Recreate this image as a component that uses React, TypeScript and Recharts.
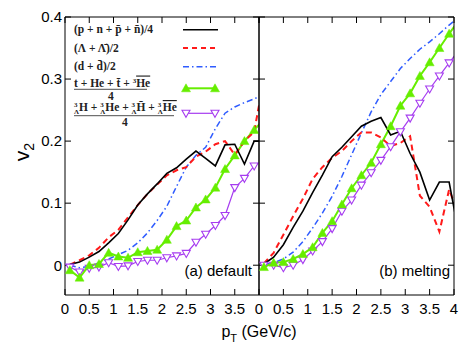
import React from 'react';
import { LineChart, Line, XAxis, YAxis, Legend } from 'recharts';

// transverse momentum bins (GeV/c)
const ptValues = [0.1, 0.3, 0.5, 0.7, 0.9, 1.1, 1.3, 1.5, 1.7, 1.9, 2.1, 2.3, 2.5, 2.7, 2.9, 3.1, 3.3, 3.5, 3.7, 3.9, 4.1];

// (a) default
const defaultNucleon = [0.001, 0.005, 0.013, 0.022, 0.036, 0.051, 0.073, 0.097, 0.115, 0.131, 0.148, 0.157, 0.171, 0.184, 0.172, 0.16, 0.194, 0.195, 0.163, 0.2, 0.2];
const defaultLambda = [0.001, 0.008, 0.016, 0.028, 0.045, 0.057, 0.077, 0.097, 0.115, 0.13, 0.145, 0.153, 0.158, 0.175, 0.183, 0.195, 0.2, 0.178, 0.2, 0.215, 0.3];
const defaultDeuteron = [0.0, -0.004, -0.002, 0.004, 0.01, 0.017, 0.024, 0.036, 0.052, 0.072, 0.095, 0.127, 0.158, 0.177, 0.19, 0.22, 0.245, 0.255, 0.262, 0.268, 0.275];
const defaultA3 = [-0.008, -0.02, 0.0, 0.002, 0.02, 0.014, 0.012, 0.021, 0.023, 0.025, 0.041, 0.063, 0.072, 0.093, 0.106, 0.125, 0.155, 0.177, 0.2, 0.218, 0.235];
const defaultHyper = [-0.003, -0.011, -0.005, -0.003, 0.004, -0.002, -0.001, 0.006, 0.008, 0.008, 0.012, 0.015, 0.019, 0.037, 0.05, 0.064, 0.08, 0.125, 0.14, 0.16, 0.17];

// (b) melting
const meltingNucleon = [0.002, 0.013, 0.033, 0.061, 0.087, 0.117, 0.145, 0.175, 0.19, 0.207, 0.224, 0.232, 0.238, 0.21, 0.216, 0.18, 0.15, 0.105, 0.134, 0.134, 0.05];
const meltingLambda = [0.003, 0.02, 0.049, 0.079, 0.107, 0.139, 0.158, 0.173, 0.184, 0.2, 0.214, 0.214, 0.206, 0.192, 0.197, 0.208, 0.112, 0.094, 0.054, 0.122, 0.08];
const meltingDeuteron = [0.001, 0.004, 0.01, 0.021, 0.038, 0.06, 0.084, 0.111, 0.143, 0.178, 0.213, 0.247, 0.275, 0.296, 0.317, 0.333, 0.348, 0.36, 0.373, 0.387, 0.4];
const meltingA3 = [-0.003, 0.004, 0.005, 0.01, 0.018, 0.029, 0.052, 0.071, 0.098, 0.124, 0.145, 0.165, 0.195, 0.224, 0.257, 0.277, 0.305, 0.327, 0.35, 0.373, 0.395];
const meltingHyper = [0.0, 0.0, -0.004, 0.0, 0.009, 0.023, 0.038, 0.059, 0.087, 0.105, 0.129, 0.149, 0.169, 0.191, 0.215, 0.237, 0.261, 0.284, 0.305, 0.326, 0.347];

const yTicks = [0, 0.1, 0.2, 0.3, 0.4];
const xTicksLeft = [0, 0.5, 1, 1.5, 2, 2.5, 3, 3.5];
const xTicksRight = [0, 0.5, 1, 1.5, 2, 2.5, 3, 3.5, 4];
const xTicksTop = [0, 0.5, 1, 1.5, 2, 2.5, 3, 3.5, 4];

const buildRows = (n: number[], l: number[], d: number[], a: number[], h: number[]) =>
  ptValues.map((pt, i) => ({ pt, nucleon: n[i], lambda: l[i], deuteron: d[i], a3: a[i], hyper: h[i] }));

const defaultRows = buildRows(defaultNucleon, defaultLambda, defaultDeuteron, defaultA3, defaultHyper);
const meltingRows = buildRows(meltingNucleon, meltingLambda, meltingDeuteron, meltingA3, meltingHyper);

const GREEN = '#66ee00';
const PURPLE = '#a63cf0';
const BLUE = '#2f5cff';
const RED = '#ff1a1a';
const SANS = '"Liberation Sans", Arial, Helvetica, sans-serif';
const SERIF = '"Liberation Serif", "Times New Roman", serif';

const TriUp = (props: any) => {
  const { cx, cy } = props;
  if (cx == null || cy == null) return <g />;
  return <path d={`M${cx},${cy - 4.5}L${cx + 4.5},${cy + 3.5}L${cx - 4.5},${cy + 3.5}Z`} fill={GREEN} stroke={GREEN} strokeWidth={0.5} />;
};

const TriDown = (props: any) => {
  const { cx, cy } = props;
  if (cx == null || cy == null) return <g />;
  return <path d={`M${cx},${cy + 4}L${cx + 4},${cy - 3}L${cx - 4},${cy - 3}Z`} fill="#fff" stroke={PURPLE} strokeWidth={1.1} />;
};

const PreScript = ({ children }: { children: string }) => (
  <>
    <tspan fontSize={7} dy={-4}>3</tspan>
    <tspan fontSize={7} dx={-3.6} dy={7}>Λ</tspan>
    <tspan dy={-3}>{children}</tspan>
  </>
);

const LegendBox = () => {
  const lx1 = 113;
  const lx2 = 148;
  const txt = { fontFamily: SERIF, fontWeight: 700, fontSize: 11.5, fill: '#222' } as const;
  return (
    <svg width={160} height={115} style={{ display: 'block', overflow: 'visible' }}>
      <text x={4} y={15} {...txt} xmlSpace="preserve">(p + n + p̄ + n̄)/4</text>
      <line x1={lx1} x2={lx2} y1={11.7} y2={11.7} stroke="#000" strokeWidth={1.6} />

      <text x={4} y={33.5} {...txt} xmlSpace="preserve">(Λ + Λ̄)/2</text>
      <line x1={lx1} x2={lx2} y1={30} y2={30} stroke={RED} strokeWidth={2} strokeDasharray="5 4" />

      <text x={4} y={52} {...txt} xmlSpace="preserve">(d + d̄)/2</text>
      <line x1={lx1} x2={lx2} y1={48.7} y2={48.7} stroke={BLUE} strokeWidth={1.5} strokeDasharray="6 3 1.5 3" />

      <text x={4} y={68.5} {...txt} xmlSpace="preserve">
        t + He + t̄ + <tspan fontSize={7} dy={-4}>3</tspan><tspan dy={4} style={{ textDecoration: 'overline' }}>He</tspan>
      </text>
      <line x1={4} x2={77} y1={71.3} y2={71.3} stroke="#222" strokeWidth={0.8} />
      <text x={38} y={81.5} {...txt}>4</text>
      <line x1={lx1 + 3} x2={lx2 - 3} y1={70.3} y2={70.3} stroke={GREEN} strokeWidth={2} />
      <TriUp cx={lx1 + 3} cy={70.3} />
      <TriUp cx={lx2 - 3} cy={70.3} />

      <text x={4} y={93} {...txt} xmlSpace="preserve">
        <PreScript>H</PreScript> + <PreScript>He</PreScript> + <PreScript>H̄</PreScript> +{' '}
        <tspan fontSize={7} dy={-4}>3</tspan>
        <tspan fontSize={7} dx={-3.6} dy={7}>Λ</tspan>
        <tspan dy={-3} style={{ textDecoration: 'overline' }}>He</tspan>
      </text>
      <line x1={4} x2={104} y1={97.7} y2={97.7} stroke="#222" strokeWidth={0.8} />
      <text x={52} y={107.5} {...txt}>4</text>
      <line x1={lx1 + 3} x2={lx2 - 3} y1={95.3} y2={95.3} stroke={PURPLE} strokeWidth={1.2} />
      <TriDown cx={lx1 + 3} cy={95.3} />
      <TriDown cx={lx2 - 3} cy={95.3} />
    </svg>
  );
};

const axisStroke = { stroke: '#000', strokeWidth: 1 };
const tickFont = { fontSize: 15, fill: '#000', fontFamily: SANS };

type PanelProps = {
  rows: any[];
  width: number;
  marginLeft: number;
  marginRight: number;
  yWidth: number;
  showYLabels: boolean;
  xTicks: number[];
  withLegend: boolean;
};

const Panel = ({ rows, width, marginLeft, marginRight, yWidth, showYLabels, xTicks, withLegend }: PanelProps) => (
  <div style={{ position: 'absolute', left: 0, top: 0 }}>
    <LineChart width={width} height={348} data={rows} margin={{ top: 16, right: marginRight, bottom: 52, left: marginLeft }}>
      <XAxis
        xAxisId="b"
        dataKey="pt"
        type="number"
        domain={[0, 4]}
        allowDataOverflow
        ticks={xTicks}
        interval={0}
        orientation="bottom"
        height={1}
        tickSize={-6}
        tickMargin={14}
        tick={tickFont}
        axisLine={axisStroke}
        tickLine={axisStroke}
        tickFormatter={(v: number) => String(v)}
      />
      <XAxis
        xAxisId="t"
        dataKey="pt"
        type="number"
        domain={[0, 4]}
        allowDataOverflow
        ticks={xTicksTop}
        interval={0}
        orientation="top"
        height={1}
        tickSize={-6}
        tick={tickFont}
        axisLine={axisStroke}
        tickLine={axisStroke}
        tickFormatter={() => ''}
      />
      <YAxis
        yAxisId="l"
        type="number"
        domain={[-0.048, 0.4]}
        allowDataOverflow
        ticks={yTicks}
        interval={0}
        width={yWidth}
        tickSize={-6}
        tickMargin={9}
        tick={tickFont}
        axisLine={axisStroke}
        tickLine={axisStroke}
        tickFormatter={(v: number) => (showYLabels ? (v === 0 ? '0' : v.toFixed(1)) : '')}
      />
      <YAxis
        yAxisId="r"
        orientation="right"
        type="number"
        domain={[-0.048, 0.4]}
        allowDataOverflow
        ticks={yTicks}
        interval={0}
        width={1}
        tickSize={-6}
        tick={tickFont}
        axisLine={axisStroke}
        tickLine={axisStroke}
        tickFormatter={() => ''}
      />
      {withLegend && (
        <Legend
          layout="horizontal"
          verticalAlign="middle"
          align="center"
          content={() => <LegendBox />}
          wrapperStyle={{ position: 'absolute', left: 70, top: 18, width: 160, height: 115 }}
        />
      )}
      <Line xAxisId="b" yAxisId="l" dataKey="deuteron" name="(d + d̄)/2" type="linear" stroke={BLUE} strokeWidth={1.5} strokeDasharray="6 3 1.5 3" dot={false} isAnimationActive={false} />
      <Line xAxisId="b" yAxisId="l" dataKey="hyper" name="hypernuclei" type="linear" stroke={PURPLE} strokeWidth={1.2} dot={<TriDown />} isAnimationActive={false} />
      <Line xAxisId="b" yAxisId="l" dataKey="a3" name="A=3" type="linear" stroke={GREEN} strokeWidth={2} dot={<TriUp />} isAnimationActive={false} />
      <Line xAxisId="b" yAxisId="l" dataKey="lambda" name="(Λ + Λ̄)/2" type="linear" stroke={RED} strokeWidth={2} strokeDasharray="6 4" dot={false} isAnimationActive={false} />
      <Line xAxisId="b" yAxisId="l" dataKey="nucleon" name="(p + n + p̄ + n̄)/4" type="linear" stroke="#000" strokeWidth={1.6} dot={false} isAnimationActive={false} />
    </LineChart>
  </div>
);

export default function App() {
  return (
    <div style={{ position: 'absolute', left: 0, top: 0, width: 463, height: 348, background: '#fff' }}>
      <Panel rows={defaultRows} width={263} marginLeft={0} marginRight={3} yWidth={65} showYLabels xTicks={xTicksLeft} withLegend />
      <Panel rows={meltingRows} width={463} marginLeft={258} marginRight={8} yWidth={1} showYLabels={false} xTicks={xTicksRight} withLegend={false} />
      <svg width={463} height={348} style={{ position: 'absolute', left: 0, top: 0, pointerEvents: 'none' }}>
        <text x={29} y={152} transform="rotate(-90 29 152)" textAnchor="middle" fontFamily={SANS} fontSize={21} fill="#000">
          v<tspan fontSize={14} dy={5}>2</tspan>
        </text>
        <text x={259} y={337} textAnchor="middle" fontFamily={SANS} fontSize={16} fill="#000">
          p<tspan fontSize={11} dy={5}>T</tspan>
          <tspan dy={-5}> (GeV/c)</tspan>
        </text>
        <text x={252} y={276} textAnchor="end" fontFamily={SANS} fontSize={15} fill="#000">(a) default</text>
        <text x={450} y={276} textAnchor="end" fontFamily={SANS} fontSize={15} fill="#000">(b) melting</text>
      </svg>
    </div>
  );
}
